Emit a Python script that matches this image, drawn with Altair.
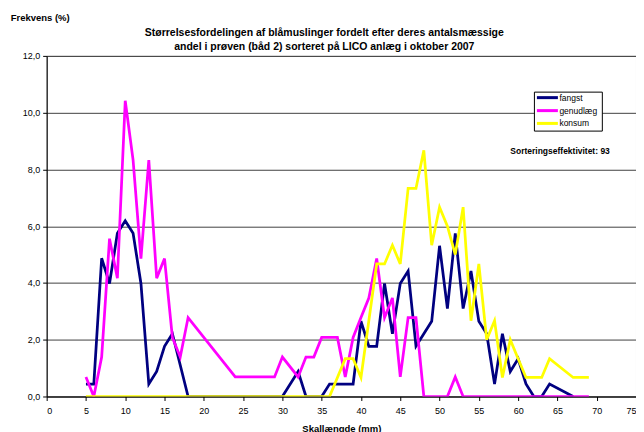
import altair as alt
import pandas as pd

series_names = ["fangst", "genudlæg", "konsum"]
series_colors = ["#000080", "#FF00FF", "#FFFF00"]

fangst_x = [5, 6, 7, 8, 9, 10, 11, 12, 13, 14, 15, 16, 18, 30, 32, 33, 35, 36, 39,
            40, 41, 42, 43, 44, 45, 46, 47, 48, 49, 50, 51, 52, 53, 54, 55, 56, 57, 58, 59,
            60, 61, 62, 63, 64, 67]
fangst_y = [0.44, 0.44, 4.87, 3.98, 5.75, 6.19, 5.75, 3.98, 0.44, 0.88, 1.77, 2.21,
            0, 0, 0.88, 0, 0, 0.44, 0.44,
            2.65, 1.77, 1.77, 3.98, 2.21, 3.98, 4.42, 1.77, 2.21, 2.65,
            5.31, 3.10, 5.75, 3.10, 4.42, 2.65, 2.21, 0.44, 2.21, 0.88,
            1.33, 0.44, 0, 0, 0.44, 0]

genudlaeg_x = [5, 6, 7, 8, 9, 10, 11, 12, 13, 14, 15, 16, 17, 18,
               24, 29, 30, 32, 33, 34, 35, 37, 38, 39,
               40, 41, 42, 43, 44, 45, 46, 47, 48, 51, 52, 53, 69]
genudlaeg_y = [0.69, 0, 1.39, 5.56, 4.17, 10.42, 8.33, 4.86, 8.33, 4.17, 4.86, 2.08, 1.39, 2.78,
               0.69, 0.69, 1.39, 0.69, 1.39, 1.39, 2.08, 2.08, 0.69, 2.08,
               2.78, 3.47, 4.86, 2.78, 3.47, 0.69, 2.78, 2.78, 0, 0, 0.69, 0, 0]

konsum_x = [5, 36, 38, 39, 40, 41, 42, 43, 44, 45, 46, 47, 48, 49, 50, 51, 52, 53, 54,
            55, 56, 57, 58, 59, 60, 61, 63, 64, 67, 69]
konsum_y = [0, 0, 1.33, 1.33, 0.67, 2.67, 4.67, 4.67, 5.33, 4.67, 7.33, 7.33, 8.67, 5.33,
            6.67, 6.0, 5.0, 6.67, 2.67, 4.67, 2.0, 2.67, 0.67, 2.0, 1.33, 0.67, 0.67, 1.33,
            0.67, 0.67]

x_ticks = list(range(0, 80, 5))
y_ticks = [0, 2, 4, 6, 8, 10, 12]

title_lines = [
    "Størrelsesfordelingen af blåmuslinger fordelt efter deres antalsmæssige",
    "andel i prøven (båd 2) sorteret på LICO anlæg i oktober 2007",
]
y_title = "Frekvens (%)"
x_title = "Skallængde (mm)"
note = "Sorteringseffektivitet: 93"

FONT = "Liberation Sans"

rows = []
for name, xs, ys in zip(series_names, [fangst_x, genudlaeg_x, konsum_x],
                        [fangst_y, genudlaeg_y, konsum_y]):
    for i, (xv, yv) in enumerate(zip(xs, ys)):
        rows.append({"serie": name, "x": xv, "y": yv, "i": i})
df = pd.DataFrame(rows)

x_enc = alt.X("x:Q", scale=alt.Scale(domain=[0, 75], nice=False, zero=False),
              axis=alt.Axis(values=x_ticks, title=x_title, grid=False, format="d",
                            labelFont=FONT, labelFontSize=9, labelColor="black",
                            labelPadding=6, tickSize=4, tickColor="black",
                            domainColor="black", titleFont=FONT, titleFontSize=9.5,
                            titleFontWeight="bold", titleColor="black", titlePadding=8))
y_enc = alt.Y("y:Q", scale=alt.Scale(domain=[0, 12], nice=False),
              axis=alt.Axis(values=y_ticks, title=None, grid=True, gridColor="#404040",
                            gridWidth=1, labelFont=FONT, labelFontSize=9, labelColor="black",
                            labelPadding=3, tickSize=4, tickColor="black",
                            domainColor="black",
                            labelExpr="replace(format(datum.value, '.1f'), '.', ',')"))
color_enc = alt.Color("serie:N", scale=alt.Scale(domain=series_names, range=series_colors),
                      legend=None)

layers = []
for name in series_names:
    layers.append(
        alt.Chart(df).transform_filter(alt.datum.serie == name)
        .mark_line(strokeWidth=2.75, clip=True)
        .encode(x=x_enc, y=y_enc, color=color_enc, order="i:Q")
    )

one = pd.DataFrame({"k": [0]})


def text_layer(txt, xpx, ypx, size, bold, align="center"):
    return alt.Chart(pd.DataFrame({"t": [txt]})).mark_text(
        font=FONT, fontSize=size, fontWeight="bold" if bold else "normal",
        align=align, baseline="middle", color="black"
    ).encode(x=alt.value(xpx), y=alt.value(ypx), text="t:N")


# legend box (drawn by hand so the rows are as tight as in the reference)
LX0, LX1, LY0, LY1 = 488.3, 556.3, 36.3, 75.3
layers.append(
    alt.Chart(one).mark_rect(fill="white", stroke="black", strokeWidth=1)
    .encode(x=alt.value(LX0), x2=alt.value(LX1), y=alt.value(LY0), y2=alt.value(LY1))
)
row_y = [41.8, 54.8, 67.6]
for name, col, ry in zip(series_names, series_colors, row_y):
    layers.append(
        alt.Chart(one).mark_rule(strokeWidth=3, color=col)
        .encode(x=alt.value(LX0 + 2.5), x2=alt.value(LX0 + 23.5), y=alt.value(ry))
    )
    layers.append(text_layer(name, LX0 + 25, ry, 8.5, False, align="left"))

layers.append(text_layer(title_lines[0], 278, -23, 10.5, True))
layers.append(text_layer(title_lines[1], 278, -9, 10.5, True))
layers.append(text_layer(y_title, -36, -37.5, 9.5, True, align="left"))
layers.append(text_layer(note, 514, 95, 8.5, True))

chart = alt.layer(*layers).properties(
    width=590, height=341,
    autosize=alt.AutoSizeParams(type="none"),
    padding={"left": 38.7, "top": 47.7, "right": 0, "bottom": 40},
).configure_view(stroke="#808080", strokeWidth=1)

chart.save("out.html", embed_options={"renderer": "svg", "actions": False})
